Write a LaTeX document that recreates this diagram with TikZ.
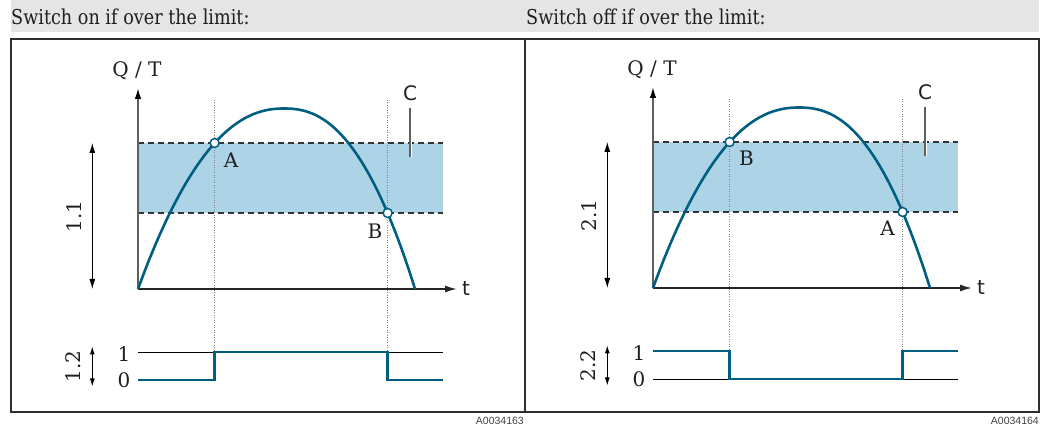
\documentclass[tikz,border=0pt]{standalone}
\usepackage{fontspec}
\setmainfont{DejaVu Serif}
\newfontfamily\hdrfont[FakeStretch=0.86]{DejaVu Serif}
\newfontfamily\tagfont{Liberation Sans}
\newfontfamily\plainsans{DejaVu Sans}
\usetikzlibrary{arrows.meta}
\definecolor{ehblue}{RGB}{0,95,128}
\definecolor{bandblue}{RGB}{173,212,230}
\definecolor{hdrgray}{RGB}{229,229,229}
\definecolor{framegray}{RGB}{45,45,45}
\definecolor{dotgray}{RGB}{130,130,130}
\definecolor{axisgray}{RGB}{95,95,95}
\tikzset{
  lbl/.style={font=\fontsize{20}{24}\selectfont, inner sep=0pt, text=black!88},
  sflbl/.style={font=\plainsans\fontsize{20}{24}\selectfont, inner sep=0pt, text=black!88},
  hdr/.style={font=\hdrfont\fontsize{20.5}{24}\selectfont, inner sep=0pt, anchor=base west, text=black!88},
  tagtext/.style={font=\tagfont\fontsize{10.5}{12}\selectfont, inner sep=0pt, anchor=east, text=black!75},
  curve/.style={ehblue, line width=2.6pt},
  sig/.style={ehblue, line width=2.8pt, line join=miter},
  levelline/.style={black, line width=0.9pt},
  bandline/.style={black!80, line width=1.1pt, dash pattern=on 6pt off 4pt},
  dotline/.style={dotgray, line width=0.8pt, dash pattern=on 1pt off 1.5pt},
  yax/.style={axisgray, line width=1.5pt, -{Latex[length=11pt,width=6.5pt,black]}},
  xax/.style={black!85, line width=1.5pt, -{Latex[length=12pt,width=7pt]}},
  dimarrow/.style={black, line width=1pt, {Latex[length=10pt,width=6pt]}-{Latex[length=10pt,width=6pt]}},
  smalldim/.style={black, line width=1pt, {Latex[length=8pt,width=5pt]}-{Latex[length=8pt,width=5pt]}},
  crosspt/.style={circle, draw=ehblue, fill=white, line width=1.5pt, minimum size=9pt, inner sep=0pt},
  frm/.style={framegray, line width=1.7pt},
  leaderhalo/.style={white, line width=3pt},
  leader/.style={axisgray, line width=1.3pt},
}
\newcommand\qtchart[1]{%
  \fill[bandblue] (138,143) rectangle (443,213);
  \draw[bandline] (138,143) -- (443,143);
  \draw[bandline] (138,213) -- (443,213);
  \coordinate (#1o) at (138,289);
  \coordinate (#1ytip) at (138,88);
  \coordinate (#1xtip) at (457,289);
  \draw[yax] (#1o) -- (#1ytip);
  \draw[xax] (#1o) -- (#1xtip);
  \coordinate (#1p) at ({284-146*pow(34.5/180.5,1/2.22)},143);
  \coordinate (#1q) at ({284+131*pow(104.5/180.5,1/2.33)},213);
  \draw[dotline] (#1p |- 0,100) -- (#1p |- 0,352);
  \draw[dotline] (#1q |- 0,100) -- (#1q |- 0,352);
  \draw[curve] plot[domain=-1:1, samples=80] ({284+\x*(\x<0?146:131)}, {108.5+180.5*pow(abs(\x),(\x<0?2.22:2.33))});
  \node[crosspt] (#1pc) at (#1p) {};
  \node[crosspt] (#1qc) at (#1q) {};
  \node[lbl] (#1qt) at (137,71) {Q / T};
  \node[sflbl] (#1t) at (466,288) {t};
  \node[sflbl] (#1C) at (410,93) {C};
  \coordinate (#1Cs) at (410,108);
  \coordinate (#1Ce) at (410,157);
  \draw[leaderhalo] (#1Cs) -- (#1Ce);
  \draw[leader] (#1Cs) -- (#1Ce);
  \coordinate (#1da) at (92.3,143);
  \coordinate (#1db) at (92.3,289);
  \draw[dimarrow] (#1da) -- (#1db);
  \coordinate (#1sa) at (92.3,346.5);
  \coordinate (#1sb) at (92.3,386.5);
  \draw[smalldim] (#1sa) -- (#1sb);
  \node[lbl] (#1one) at (124,354) {1};
  \node[lbl] (#1zero) at (124,380) {0};
}
\begin{document}
\begin{tikzpicture}[x=1pt,y=-1pt]
\useasboundingbox (0,0) rectangle (1045,427);
% header band
\fill[hdrgray] (11,0) rectangle (1039,32);
\node[hdr] (hleft) at (11,25) {Switch on if over the limit:};
\node[hdr] (hright) at (526,25) {Switch off if over the limit:};
% left panel
\begin{scope}
  \qtchart{L}
  \node[lbl] (LlabA) at (231,160) {A};
  \node[lbl] (LlabB) at (375,231) {B};
  \node[lbl, rotate=90] (Ld1) at (74.5,216.7) {1.1};
  \node[lbl, rotate=90] (Ld2) at (73,366.7) {1.2};
  \draw[levelline] (138,352) -- (443,352);
  \draw[sig] (138,380) -- (Lp |- 0,380) -- (Lp |- 0,352) -- (Lq |- 0,352) -- (Lq |- 0,380) -- (443,380);
\end{scope}
% right panel
\begin{scope}[shift={(515,-1)}]
  \qtchart{R}
  \node[lbl] (RlabB) at (231.5,159) {B};
  \node[lbl] (RlabA) at (372.5,229) {A};
  \node[lbl, rotate=90] (Rd1) at (74.5,216.7) {2.1};
  \node[lbl, rotate=90] (Rd2) at (73,366.7) {2.2};
  \draw[levelline] (138,380) -- (443,380);
  \draw[sig] (138,352) -- (Rp |- 0,352) -- (Rp |- 0,380) -- (Rq |- 0,380) -- (Rq |- 0,352) -- (443,352);
\end{scope}
% frames
\draw[frm] (11,39) rectangle (525,412);
\draw[frm] (525,39) rectangle (1039,412);
% tags
\node[tagtext] (tagL) at (524,421) {A0034163};
\node[tagtext] (tagR) at (1039,421) {A0034164};
\end{tikzpicture}
\end{document}
